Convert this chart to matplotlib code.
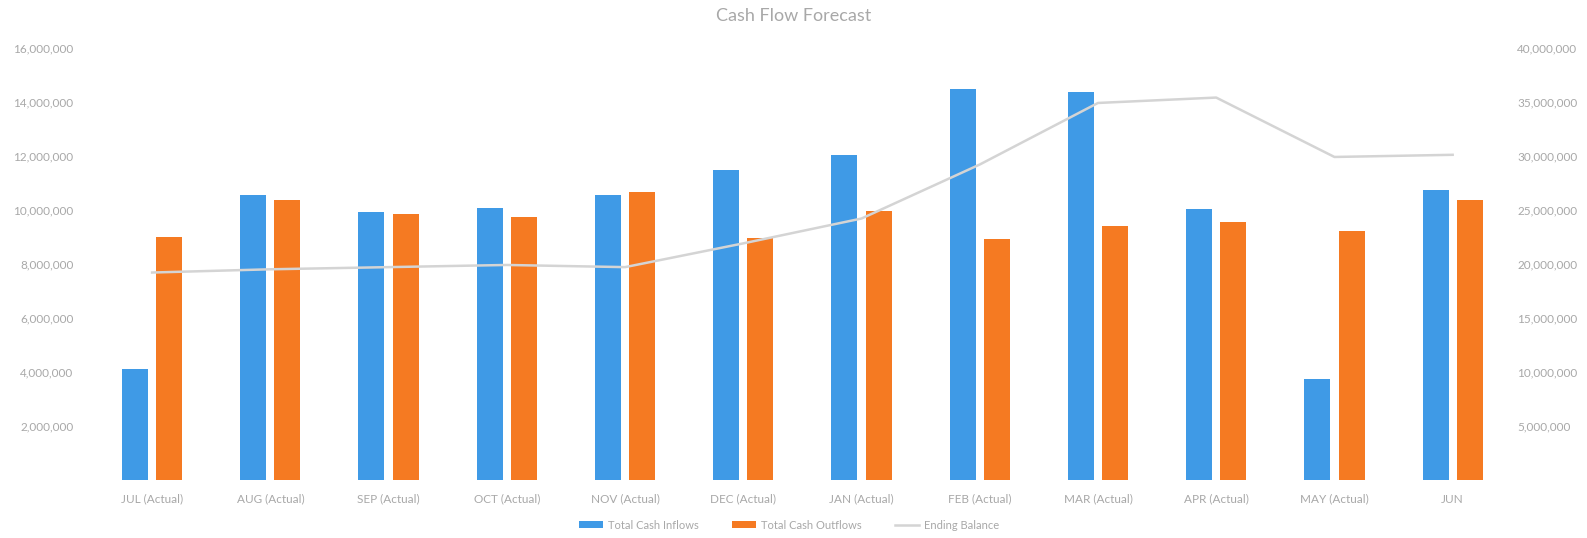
import matplotlib
matplotlib.use("Agg")
import matplotlib.pyplot as plt
import numpy as np
from matplotlib.ticker import FuncFormatter

plt.rcParams["font.family"] = ["Lato", "DejaVu Sans"]

months = [
    "JUL (Actual)", "AUG (Actual)", "SEP (Actual)", "OCT (Actual)",
    "NOV (Actual)", "DEC (Actual)", "JAN (Actual)", "FEB (Actual)",
    "MAR (Actual)", "APR (Actual)", "MAY (Actual)", "JUN"
]

# values
inflows = [4.12e6, 10.56e6, 9.93e6, 10.07e6, 10.56e6, 11.46e6,
           12.02e6, 14.46e6, 14.38e6, 10.04e6, 3.75e6, 10.75e6]
outflows = [9.0e6, 10.37e6, 9.85e6, 9.74e6, 10.67e6, 8.95e6,
            9.96e6, 8.91e6, 9.4e6, 9.55e6, 9.21e6, 10.37e6]
ending_balance = [19.2e6, 19.5e6, 19.7e6, 19.9e6, 19.7e6, 21.9e6,
                  24.2e6, 29.2e6, 34.9e6, 35.4e6, 29.9e6, 30.1e6]

BLUE = "#3f9ae6"
ORANGE = "#f57a22"
GRAY = "#d4d4d4"
TEXT = "#a8a8a8"

fig = plt.figure(figsize=(15.87, 5.38), dpi=100)
ax = fig.add_axes([0.0586, 0.108, 0.894, 0.803])
ax2 = ax.twinx()

x = np.arange(len(months))
w = 0.22
ax.bar(x - 0.145, inflows, width=w, color=BLUE, label="Total Cash Inflows", zorder=2)
ax.bar(x + 0.145, outflows, width=w, color=ORANGE, label="Total Cash Outflows", zorder=2)

# line on the secondary axis, drawn above bars
ax2.plot(x, ending_balance, color=GRAY, linewidth=1.8, label="Ending Balance")
ax.set_zorder(1)
ax2.set_zorder(2)
ax2.patch.set_visible(False)

ax.set_xlim(-0.5, len(months) - 0.5)
ax.set_ylim(0, 16e6)
ax2.set_ylim(0, 40e6)

ax.set_yticks(np.arange(2e6, 16.1e6, 2e6))
ax2.set_yticks(np.arange(5e6, 40.1e6, 5e6))
fmt = FuncFormatter(lambda v, p: f"{v:,.0f}")
ax.yaxis.set_major_formatter(fmt)
ax2.yaxis.set_major_formatter(fmt)

ax.set_xticks(x)
ax.set_xticklabels(months)

for a in (ax, ax2):
    for s in a.spines.values():
        s.set_visible(False)
    a.tick_params(length=0, colors=TEXT, labelsize=8.5)
ax.tick_params(axis="x", pad=10)
ax.tick_params(axis="y", pad=14)
ax2.tick_params(axis="y", pad=4)

fig.suptitle("Cash Flow Forecast", y=0.985, fontsize=13, color=TEXT)

h1, l1 = ax.get_legend_handles_labels()
h2, l2 = ax2.get_legend_handles_labels()
fig.legend(h1 + h2, l1 + l2, loc="lower center", bbox_to_anchor=(0.497, -0.005),
           ncol=3, frameon=False, fontsize=8, labelcolor=TEXT,
           handlelength=2.2, handleheight=0.6, handletextpad=0.4,
           columnspacing=3.0)

fig.savefig("out.png", dpi=100)
